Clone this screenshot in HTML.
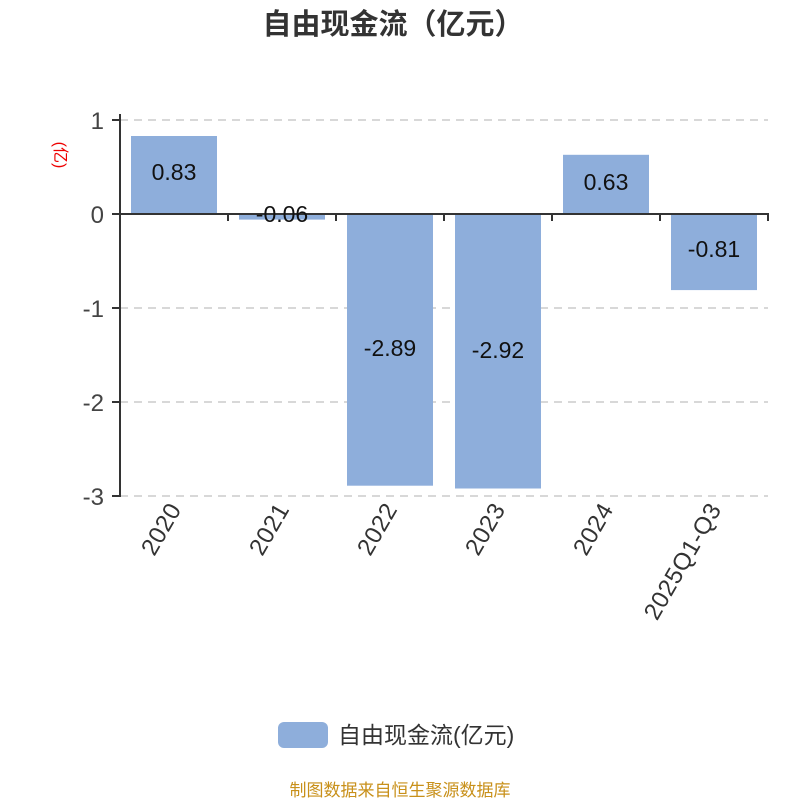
<!DOCTYPE html>
<html><head><meta charset="utf-8"><style>body{margin:0;background:#fff}svg{display:block}</style></head>
<body>
<svg width="800" height="800" xmlns="http://www.w3.org/2000/svg" font-family="'Liberation Sans','Noto Sans CJK SC',sans-serif">
<text x="393" y="34" text-anchor="middle" font-size="29" font-weight="bold" fill="#333">自由现金流（亿元）</text>
<g stroke="#ccc" stroke-width="1.5" stroke-dasharray="8,6">
<line x1="120" y1="120" x2="768" y2="120"/>
<line x1="120" y1="308" x2="768" y2="308"/>
<line x1="120" y1="402" x2="768" y2="402"/>
<line x1="120" y1="496" x2="768" y2="496"/>
</g>
<g fill="#8eaedb">
<rect x="131" y="136" width="86" height="78"/>
<rect x="239" y="214" width="86" height="5.6"/>
<rect x="347" y="214" width="86" height="271.7"/>
<rect x="455" y="214" width="86" height="274.5"/>
<rect x="563" y="154.8" width="86" height="59.2"/>
<rect x="671" y="214" width="86" height="76.1"/>
</g>
<g stroke="#333" stroke-width="2" fill="none">
<line x1="120" y1="114" x2="120" y2="497"/>
<line x1="112" y1="120" x2="120" y2="120"/>
<line x1="112" y1="214" x2="120" y2="214"/>
<line x1="112" y1="308" x2="120" y2="308"/>
<line x1="112" y1="402" x2="120" y2="402"/>
<line x1="112" y1="496" x2="120" y2="496"/>
<line x1="120" y1="214" x2="769" y2="214"/>
<line x1="228" y1="214" x2="228" y2="221"/>
<line x1="336" y1="214" x2="336" y2="221"/>
<line x1="444" y1="214" x2="444" y2="221"/>
<line x1="552" y1="214" x2="552" y2="221"/>
<line x1="660" y1="214" x2="660" y2="221"/>
<line x1="768" y1="214" x2="768" y2="221"/>
</g>
<g font-size="24" fill="#444" text-anchor="end">
<text x="104" y="129">1</text>
<text x="104" y="223">0</text>
<text x="104" y="317">-1</text>
<text x="104" y="411">-2</text>
<text x="104" y="505">-3</text>
</g>
<text transform="translate(55,155) rotate(90)" font-size="16" fill="#e00" text-anchor="middle">(亿)</text>
<g font-size="23" fill="#111" text-anchor="middle">
<text x="174" y="180">0.83</text>
<text x="282" y="222">-0.06</text>
<text x="390" y="356">-2.89</text>
<text x="498" y="358">-2.92</text>
<text x="606" y="190">0.63</text>
<text x="714" y="257">-0.81</text>
</g>
<g font-size="24" fill="#333" text-anchor="end" letter-spacing="0.5">
<text transform="translate(182,509) rotate(-60)">2020</text>
<text transform="translate(290,509) rotate(-60)">2021</text>
<text transform="translate(398,509) rotate(-60)">2022</text>
<text transform="translate(506,509) rotate(-60)">2023</text>
<text transform="translate(614,509) rotate(-60)">2024</text>
<text transform="translate(722,509) rotate(-60)">2025Q1-Q3</text>
</g>
<rect x="278" y="722" width="50" height="26" rx="6" fill="#8eaedb"/>
<text x="338" y="743" font-size="23" fill="#333">自由现金流(亿元)</text>
<text x="400" y="796" font-size="17" fill="#c8901a" text-anchor="middle">制图数据来自恒生聚源数据库</text>
</svg>
</body></html>
